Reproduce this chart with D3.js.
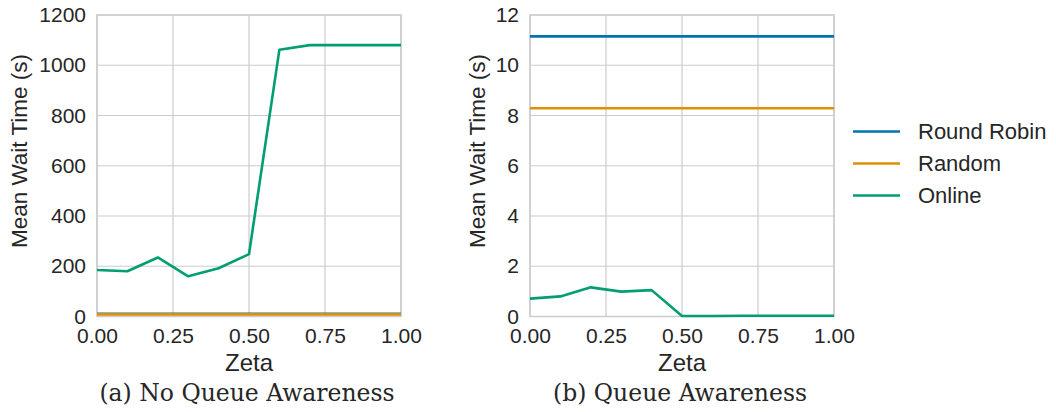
<!DOCTYPE html>
<html>
<head>
<meta charset="utf-8">
<style>
  body { margin: 0; background: #fff; }
  text { font-family: Arial, "Liberation Sans", sans-serif; fill: #262626; }
  text.caption { font-family: "DejaVu Serif", "Liberation Serif", serif; }
</style>
</head>
<body>
<svg width="1056" height="412"></svg>
<script src="https://d3js.org/d3.v7.min.js"></script>
<script>
  // data
  var zeta = [0, 0.1, 0.2, 0.3, 0.4, 0.5, 0.6, 0.7, 0.8, 0.9, 1.0];
  var seriesNames = ["Round Robin", "Random", "Online"];
  var colors = ["#0173b2", "#de8f05", "#029e73"];

  var noAwareRR = [11.1, 11.1, 11.1, 11.1, 11.1, 11.1, 11.1, 11.1, 11.1, 11.1, 11.1];
  var noAwareRandom = [8.3, 8.3, 8.3, 8.3, 8.3, 8.3, 8.3, 8.3, 8.3, 8.3, 8.3];
  var noAwareOnline = [185, 180, 235, 160, 192, 248, 1062, 1080, 1080, 1080, 1080];

  var awareRR = [11.15, 11.15, 11.15, 11.15, 11.15, 11.15, 11.15, 11.15, 11.15, 11.15, 11.15];
  var awareRandom = [8.29, 8.29, 8.29, 8.29, 8.29, 8.29, 8.29, 8.29, 8.29, 8.29, 8.29];
  var awareOnline = [0.71, 0.80, 1.16, 0.99, 1.05, 0.02, 0.02, 0.03, 0.03, 0.03, 0.03];

  var xTicks = [0, 0.25, 0.5, 0.75, 1.0];
  var yTicksLeft = [0, 200, 400, 600, 800, 1000, 1200];
  var yTicksRight = [0, 2, 4, 6, 8, 10, 12];

  var svg = d3.select("svg");

  function panel(left, right, yMax, yTicks, series, caption, labelX) {
    var top = 15, bottom = 316.5;
    var x = d3.scaleLinear().domain([0, 1]).range([left, right]);
    var y = d3.scaleLinear().domain([0, yMax]).range([bottom, top]);
    var g = svg.append("g");

    // grid
    g.selectAll(".gx").data(xTicks).enter().append("line")
      .attr("x1", function(d) { return x(d); }).attr("x2", function(d) { return x(d); })
      .attr("y1", top).attr("y2", bottom)
      .attr("stroke", "#cccccc").attr("stroke-width", 1.2);
    g.selectAll(".gy").data(yTicks).enter().append("line")
      .attr("x1", left).attr("x2", right)
      .attr("y1", function(d) { return y(d); }).attr("y2", function(d) { return y(d); })
      .attr("stroke", "#cccccc").attr("stroke-width", 1.2);
    g.append("rect").attr("x", left).attr("y", top)
      .attr("width", right - left).attr("height", bottom - top)
      .attr("fill", "none").attr("stroke", "#cccccc").attr("stroke-width", 1.5);

    // lines
    var line = d3.line().x(function(d, i) { return x(zeta[i]); }).y(function(d) { return y(d); });
    series.forEach(function(s, i) {
      g.append("path").datum(s)
        .attr("d", line).attr("fill", "none")
        .attr("stroke", colors[i]).attr("stroke-width", 2.6)
        .attr("stroke-linejoin", "round");
    });

    // axes
    var xa = g.append("g").attr("transform", "translate(0," + bottom + ")")
      .call(d3.axisBottom(x).tickValues(xTicks).tickFormat(d3.format(".2f")).tickSize(0).tickPadding(12));
    var ya = g.append("g").attr("transform", "translate(" + left + ",0)")
      .call(d3.axisLeft(y).tickValues(yTicks).tickFormat(d3.format("d")).tickSize(0).tickPadding(11));
    [xa, ya].forEach(function(a) {
      a.select(".domain").remove();
      a.attr("font-family", null).attr("font-size", null);
      a.selectAll("text").attr("font-size", 21).attr("fill", "#262626");
    });

    g.append("text").attr("x", (left + right) / 2).attr("y", 371)
      .attr("text-anchor", "middle").attr("font-size", 24).text("Zeta");
    g.append("text")
      .attr("transform", "translate(" + labelX + ",151) rotate(-90)")
      .attr("text-anchor", "middle").attr("dy", "0.35em").attr("font-size", 22.5).text("Mean Wait Time (s)");
    g.append("text").attr("class", "caption").attr("x", (left + right) / 2 - 2).attr("y", 401)
      .attr("text-anchor", "middle").attr("font-size", 23.5).text(caption);
  }

  panel(97, 401, 1200, yTicksLeft, [noAwareRR, noAwareRandom, noAwareOnline], "(a) No Queue Awareness", 19);
  panel(530, 834, 12, yTicksRight, [awareRR, awareRandom, awareOnline], "(b) Queue Awareness", 477);

  // legend
  var legend = svg.append("g").selectAll("g").data(seriesNames).enter().append("g")
    .attr("transform", function(d, i) { return "translate(853," + (131.5 + i * 32) + ")"; });
  legend.append("line").attr("x1", 0).attr("x2", 47)
    .attr("stroke", function(d, i) { return colors[i]; }).attr("stroke-width", 2.6);
  legend.append("text").attr("x", 65).attr("dy", "0.35em")
    .attr("font-size", 22).text(function(d) { return d; });
</script>
</body>
</html>
